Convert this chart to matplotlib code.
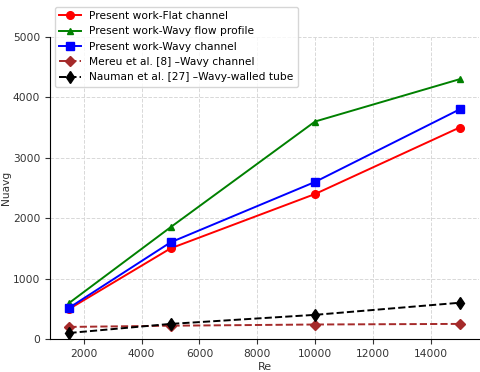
import matplotlib
matplotlib.use('Agg')
import matplotlib.pyplot as plt

re_vals = [1500, 5000, 10000, 15000]
flat = [500, 1500, 2400, 3500]
wavy_profile = [600, 1850, 3600, 4300]
wavy_channel = [520, 1600, 2600, 3800]
mereu = [200, 220, 240, 250]
nauman = [100, 250, 400, 600]

plt.rcParams['font.size'] = 7.7

fig = plt.figure(figsize=(4.8, 3.72), dpi=100)
ax = fig.add_axes([0.104, 0.0887, 0.894, 0.812])

ax.plot(re_vals, flat, color='red', marker='o', ms=5.5, lw=1.4, label='Present work-Flat channel')
ax.plot(re_vals, wavy_profile, color='green', marker='^', ms=5, lw=1.4, label='Present work-Wavy flow profile')
ax.plot(re_vals, wavy_channel, color='blue', marker='s', ms=5.5, lw=1.4, label='Present work-Wavy channel')
ax.plot(re_vals, mereu, color='brown', marker='D', ms=5.5, lw=1.4, ls='--', label='Mereu et al. [8] \u2013Wavy channel')
ax.plot(re_vals, nauman, color='black', marker='d', ms=6, lw=1.4, ls='--', label='Nauman et al. [27] \u2013Wavy-walled tube')

ax.set_ylim(0, 5000)
ax.set_xticks(range(2000, 15000, 2000))
ax.set_yticks(range(0, 5001, 1000))
ax.set_xlabel('Re', color='#333333', fontsize=8, labelpad=2)
ax.set_ylabel('Nuavg', color='#333333', fontsize=7.7, labelpad=1)
ax.tick_params(colors='#333333', labelsize=7.7)
ax.grid(True, ls='--', color='#d8d8d8', lw=0.7)
ax.spines['top'].set_visible(False)
ax.spines['right'].set_visible(False)

ax.legend(loc='upper left', bbox_to_anchor=(0.012, 1.1), borderaxespad=0,
          fontsize=7.7, labelspacing=0.5)

fig.savefig('out.png', dpi=100)
